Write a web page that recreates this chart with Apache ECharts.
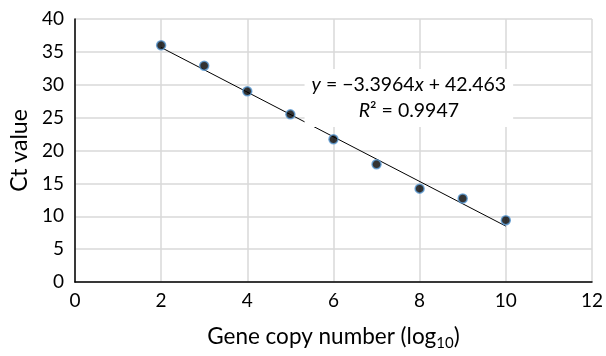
<!DOCTYPE html>
<html>
<head>
<meta charset="utf-8">
<script src="https://cdn.jsdelivr.net/npm/echarts@6/dist/echarts.min.js"></script>
<style>
html,body{margin:0;padding:0;background:#fff;}
#chart{width:606px;height:356px;}
</style>
</head>
<body>
<div id="chart"></div>
<script>
// Data
const copyNumberLog10 = [2, 3, 4, 5, 6, 7, 8, 9, 10];
const ctValues = [36.0, 32.9, 29.0, 25.5, 21.7, 17.9, 14.2, 12.7, 9.4];
// Trendline endpoints (linear fit shown in the chart)
const trendX = [2, 10];
const trendY = [35.67, 8.50];
const yTicks = [0, 5, 10, 15, 20, 25, 30, 35, 40];
const xTicks = [0, 2, 4, 6, 8, 10, 12];

const FONT = 'Lato, "Open Sans", sans-serif';
const chart = echarts.init(document.getElementById('chart'), null, {renderer: 'canvas'});

const points = copyNumberLog10.map((x, i) => [x, ctValues[i]]);
const trend = trendX.map((x, i) => [x, trendY[i]]);

const option = {
  animation: false,
  backgroundColor: '#ffffff',
  grid: {left: 72, right: 11, top: 19, bottom: 67, containLabel: false},
  xAxis: {
    type: 'value', min: xTicks[0], max: xTicks[xTicks.length - 1], interval: 2,
    name: 'Gene copy number (log{sub|10})',
    nameLocation: 'middle', nameGap: 41,
    nameTextStyle: {
      fontFamily: FONT, fontSize: 22.5, color: '#000',
      rich: {sub: {fontFamily: FONT, fontSize: 15, color: '#000', padding: [13, 0, 0, 0]}}
    },
    axisLine: {show: true, lineStyle: {color: '#000', width: 1.5}},
    axisTick: {show: false},
    axisLabel: {fontFamily: FONT, fontSize: 19, color: '#000', margin: 9},
    splitLine: {show: true, lineStyle: {color: '#d9d9d9', width: 1.5}}
  },
  yAxis: {
    type: 'value', min: yTicks[0], max: yTicks[yTicks.length - 1], interval: 5,
    name: 'Ct value', nameLocation: 'middle', nameGap: 43,
    nameTextStyle: {fontFamily: FONT, fontSize: 23, color: '#000'},
    axisLine: {show: true, lineStyle: {color: '#000', width: 1.5}},
    axisTick: {show: false},
    axisLabel: {fontFamily: FONT, fontSize: 19, color: '#000', margin: 11},
    splitLine: {show: true, lineStyle: {color: '#d9d9d9', width: 1.5}}
  },
  series: [
    {
      type: 'line', data: trend, symbol: 'none', silent: true,
      lineStyle: {color: '#000', width: 1}, z: 2
    },
    {
      type: 'scatter', data: points, symbol: 'circle', symbolSize: 9,
      itemStyle: {color: '#000', borderColor: '#5b9bd5', borderWidth: 1.5}, z: 4
    }
  ]
};
chart.setOption(option);

// Trendline equation label, anchored in data coordinates
const anchor = chart.convertToPixel({gridIndex: 0}, [7.75, 28.0]);
chart.setOption({
  graphic: [{
    type: 'text', x: anchor[0], y: anchor[1], z: 10,
    style: {
      text: '{i|y} = \u22123.3964{i|x} + 42.463\n{i|R}\u00b2 = 0.9947',
      fontFamily: FONT, fontSize: 19.5, fill: '#000',
      align: 'center', verticalAlign: 'middle',
      lineHeight: 26,
      backgroundColor: '#fff', padding: [3, 7, 3, 7],
      rich: {
        i: {fontFamily: FONT, fontSize: 19.5, fontStyle: 'italic', fill: '#000', lineHeight: 26}
      }
    }
  }]
});
</script>
</body>
</html>
